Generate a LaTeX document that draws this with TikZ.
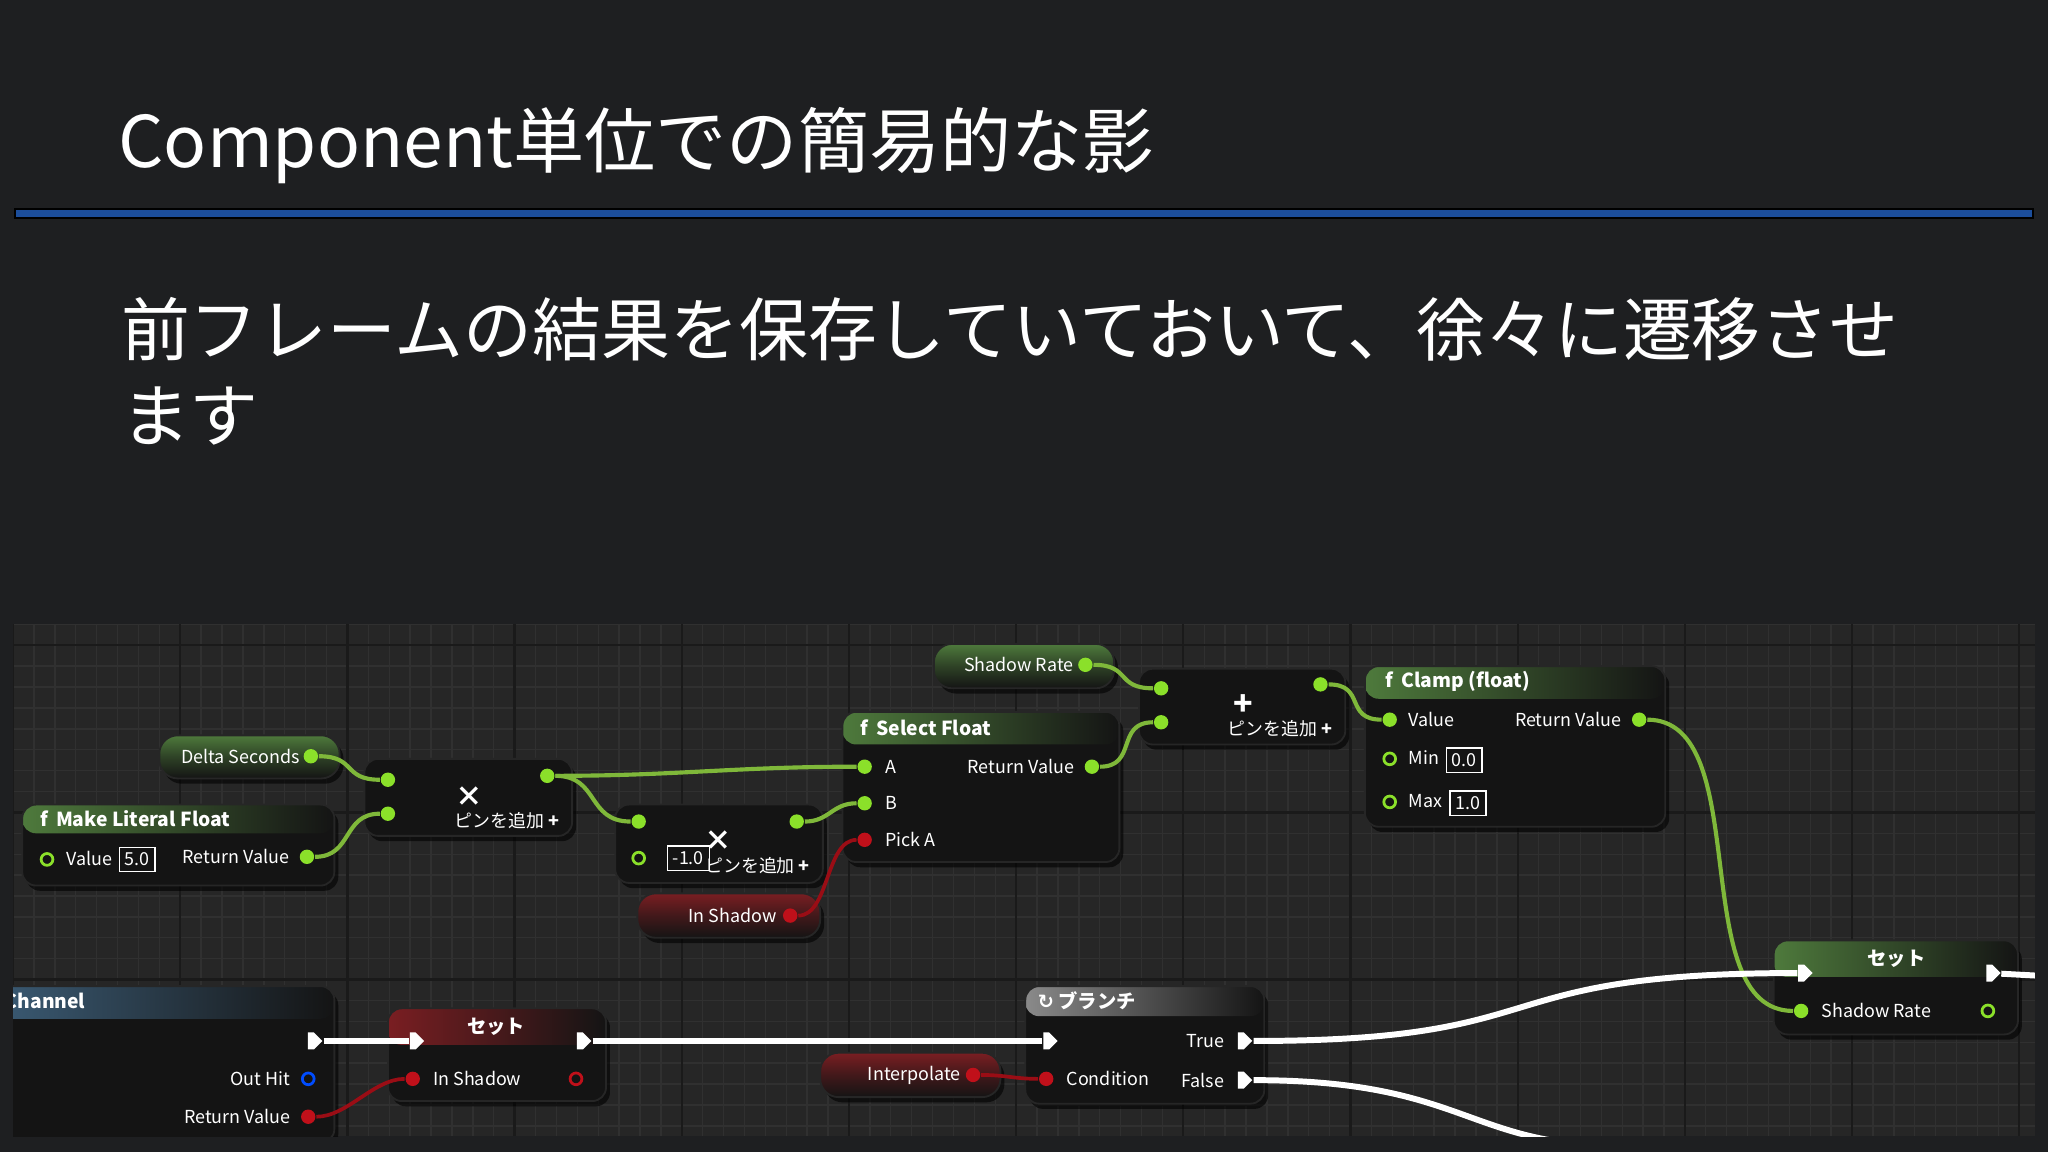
\documentclass[tikz,border=0pt]{standalone}
\usepackage{fontspec}
\setmainfont{Noto Sans CJK JP}
\newfontfamily\symfont{DejaVu Sans}
\usetikzlibrary{shapes.symbols}
\definecolor{bg}{HTML}{1E1F21}
\definecolor{gridbg}{HTML}{262626}
\definecolor{gridmin}{HTML}{303030}
\definecolor{gridmaj}{HTML}{1A1A1A}
\definecolor{nodebg}{HTML}{141414}
\definecolor{pgreen}{HTML}{8BE02A}
\definecolor{wgreen}{HTML}{7FB83A}
\definecolor{pred}{HTML}{C0101A}
\definecolor{hgreen}{HTML}{4E7A3C}
\definecolor{hred}{HTML}{7A1E22}
\definecolor{hblue}{HTML}{3D5F7A}
\definecolor{hgray}{HTML}{8A8A8A}
\definecolor{bline}{HTML}{1C4E9C}
\newcommand\bpnode[6]{%
  \fill[black, rounded corners=3pt, opacity=.6] (#1+3,#2+4) rectangle (#3+3,#4+4);
  \fill[nodebg, rounded corners=3pt] (#1,#2) rectangle (#3,#4);
  \shade[left color=#6, right color=nodebg, rounded corners=3pt] (#1,#2) rectangle (#3,#5);
  \draw[black!70!gray, rounded corners=3pt, line width=.4pt] (#1,#2) rectangle (#3,#4);}
\newcommand\bppill[5]{%
  \fill[black, rounded corners=4pt, opacity=.6] (#1+3,#2+4) rectangle (#3+3,#4+4);
  \shade[top color=#5, bottom color=nodebg, middle color=#5!45!nodebg, rounded corners=4pt] (#1,#2) rectangle (#3,#4);
  \draw[black!70!gray, rounded corners=4pt, line width=.4pt] (#1,#2) rectangle (#3,#4);}
\tikzset{
  gp/.style={circle, fill=pgreen, inner sep=0, minimum size=0.11cm},
  gph/.style={circle, draw=pgreen, line width=0.6pt, fill=nodebg, inner sep=0, minimum size=0.09cm},
  rp/.style={circle, fill=pred, inner sep=0, minimum size=0.11cm},
  rph/.style={circle, draw=pred, line width=0.6pt, fill=nodebg, inner sep=0, minimum size=0.09cm},
  bph/.style={circle, draw=blue!70!cyan, line width=0.6pt, fill=nodebg, inner sep=0, minimum size=0.09cm},
  ep/.style={signal, signal to=east, fill=white, inner sep=0, minimum width=0.11cm, minimum height=0.13cm},
  lbl/.style={font=\fontsize{3.9}{5}\selectfont, text=white!88, inner sep=0},
  ttl/.style={font=\fontsize{4.2}{5}\selectfont\bfseries, text=white!92, inner sep=0},
  vbox/.style={lbl, draw=white!60, line width=.3pt, inner sep=1.2pt},
  gw/.style={wgreen, line width=0.9pt},
  rw/.style={pred!80!black, line width=0.8pt},
  ww/.style={white!90, line width=1.3pt},
}
\begin{document}
\begin{tikzpicture}[x=0.01cm, y=-0.01cm]
\useasboundingbox (0,0) rectangle (1568,882);
\fill[bg] (0,0) rectangle (1568,882);
% title
\node[anchor=base west, inner sep=0, text=white, font=\fontsize{15.5}{18}\selectfont] (title) at (90,128) {Component単位での簡易的な影};
\fill[black] (11,159) rectangle (1557,168);
\fill[bline] (12,160.5) rectangle (1556,166.5);
\node[anchor=base west, inner sep=0, text=white, font=\fontsize{15}{17}\selectfont] (body1) at (92,272) {前フレームの結果を保存していておいて、徐々に遷移させ};
\node[anchor=base west, inner sep=0, text=white, font=\fontsize{15}{17}\selectfont] (body2) at (92,338) {ます};
% graph area
\begin{scope}
\clip (10,478) rectangle (1558,870);
\fill[gridbg] (10,478) rectangle (1558,870);
\foreach \x in {10,26,...,1558} \draw[gridmin, line width=.3pt] (\x,478) -- (\x,870);
\foreach \y in {478,494,...,870} \draw[gridmin, line width=.3pt] (10,\y) -- (1558,\y);
\foreach \x in {10,138,...,1558} \draw[gridmaj, line width=.5pt] (\x,478) -- (\x,870);
\foreach \y in {494,622,750} \draw[gridmaj, line width=.5pt] (10,\y) -- (1558,\y);

% ---- nodes
\bppill{715}{493}{853}{527}{hgreen}
\node[lbl] (srl) at (780,509) {Shadow Rate};
\node[gp] (srget) at (831,509) {};

\bpnode{872}{512}{1030}{570}{512}{nodebg}
\node[gp] (add1) at (889,527) {};
\node[gp] (add2) at (889,553) {};
\node[gp] (addo) at (1011,524) {};
\node[lbl, font=\fontsize{7}{7}\selectfont\bfseries, text=white!60] (addsym) at (952,540) {+};
\node[lbl] (addpin) at (980,558) {ピンを追加 \textbf{+}};

\bpnode{1045}{510}{1275}{633}{535}{hgreen}
\node[ttl, anchor=west] (clt) at (1060,522) {\textit{f}\, Clamp (float)};
\node[gp] (clv) at (1064,551) {};
\node[lbl, anchor=west] at (1078,551) {Value};
\node[lbl, anchor=east] at (1242,551) {Return Value};
\node[gp] (clr) at (1255,551) {};
\node[gph] (clmin) at (1064,581) {};
\node[lbl, anchor=west] at (1078,580) {Min};
\node[vbox] at (1121,582) {0.0};
\node[gph] (clmax) at (1064,614) {};
\node[lbl, anchor=west] at (1078,613) {Max};
\node[vbox] at (1124,615) {1.0};

\bppill{122}{563}{260}{596}{hgreen}
\node[lbl] (dsl) at (184,579) {Delta Seconds};
\node[gp] (ds) at (238,579) {};

\bpnode{279}{581}{438}{640}{581}{nodebg}
\node[gp] (m1a) at (297,597) {};
\node[gp] (m1b) at (297,623) {};
\node[gp] (m1o) at (419,594) {};
\node[lbl, font=\fontsize{6}{6}\selectfont\bfseries, text=white!60] (m1sym) at (359,610) {×};
\node[lbl] (m1pin) at (388,628) {ピンを追加 \textbf{+}};

\bpnode{17}{616}{256}{678}{638}{hgreen}
\node[ttl, anchor=west] (mlt) at (30,627) {\textit{f}\, Make Literal Float};
\node[gph] (mlv) at (36,658) {};
\node[lbl, anchor=west] at (50,657) {Value};
\node[vbox] at (105,658) {5.0};
\node[lbl, anchor=east] at (222,656) {Return Value};
\node[gp] (mlr) at (235,656) {};

\bpnode{471}{616}{630}{676}{616}{nodebg}
\node[gp] (m2a) at (489,629) {};
\node[gph] (m2b) at (489,657) {};
\node[gp] (m2o) at (610,629) {};
\node[vbox] at (527,657) {-1.0};
\node[lbl, font=\fontsize{6}{6}\selectfont\bfseries, text=white!60] (m2sym) at (550,644) {×};
\node[lbl] (m2pin) at (580,663) {ピンを追加 \textbf{+}};

\bppill{488}{684}{628}{718}{hred}
\node[lbl] (isl) at (561,701) {In Shadow};
\node[rp] (isg) at (605,701) {};

\bpnode{645}{545}{857}{660}{570}{hgreen}
\node[ttl, anchor=west] (sft) at (658,557) {\textit{f}\, Select Float};
\node[gp] (sfa) at (662,587) {};
\node[lbl, anchor=west] at (677,587) {A};
\node[lbl, anchor=east] at (823,587) {Return Value};
\node[gp] (sfr) at (836,587) {};
\node[gp] (sfb) at (662,615) {};
\node[lbl, anchor=west] at (677,615) {B};
\node[rp] (sfp) at (662,643) {};
\node[lbl, anchor=west] at (677,643) {Pick A};

\bpnode{1358}{720}{1545}{792}{748}{hgreen}
\node[ttl] (set2t) at (1452,734) {セット};
\node[ep] (s2in) at (1379,745) {};
\node[ep] (s2out) at (1523,745) {};
\node[gp] (s2sr) at (1379,774) {};
\node[lbl, anchor=west] at (1394,774) {Shadow Rate};
\node[gph] (s2o) at (1522,774) {};
\coordinate (s2next) at (1560,747);

\bpnode{-20}{755}{256}{875}{780}{hblue}
\node[ttl, anchor=west] (cht) at (3,766) {Channel};
\node[ep] (chex) at (238,797) {};
\node[lbl, anchor=east] at (223,826) {Out Hit};
\node[bph] (choh) at (236,826) {};
\node[lbl, anchor=east] at (223,855) {Return Value};
\node[rp] (chrv) at (236,855) {};

\bpnode{297}{772}{464}{843}{800}{hred}
\node[ttl] (set1t) at (380,786) {セット};
\node[ep] (s1in) at (316,797) {};
\node[ep] (s1out) at (444,797) {};
\node[rp] (s1is) at (316,826) {};
\node[lbl, anchor=west] at (331,826) {In Shadow};
\node[rph] (s1o) at (441,826) {};

\bppill{628}{806}{766}{840}{hred}
\node[lbl] (ipl) at (700,823) {Interpolate};
\node[rp] (ip) at (745,823) {};

\bpnode{785}{755}{968}{845}{778}{hgray}
\node[ttl, anchor=west] (brt) at (794,766) {{\symfont ↻} ブランチ};
\node[ep] (brin) at (801,797) {};
\node[lbl, anchor=east] at (938,797) {True};
\node[ep] (brt2) at (950,797) {};
\node[rp] (brc) at (801,826) {};
\node[lbl, anchor=west] at (816,826) {Condition};
\node[lbl, anchor=east] at (938,827) {False};
\node[ep] (brf) at (950,827) {};
\coordinate (brfend) at (1200,875);

% ---- wires
\draw[gw] (ds) .. controls +(35,0) and +(-35,0) .. (m1a);
\draw[gw] (mlr) .. controls +(35,0) and +(-35,0) .. (m1b);
\draw[gw] (m1o) .. controls +(100,0) and +(-100,0) .. (sfa);
\draw[gw] (m1o) .. controls +(40,0) and +(-40,0) .. (m2a);
\draw[gw] (m2o) .. controls +(25,0) and +(-25,0) .. (sfb);
\draw[rw] (isg) .. controls +(30,0) and +(-30,0) .. (sfp);
\draw[gw] (sfr) .. controls +(35,0) and +(-35,0) .. (add2);
\draw[gw] (srget) .. controls +(35,0) and +(-35,0) .. (add1);
\draw[gw] (addo) .. controls +(35,0) and +(-35,0) .. (clv);
\draw[gw] (clr) .. controls +(90,0) and +(-90,0) .. (s2sr);
\draw[ww] (chex) -- (s1in);
\draw[ww] (s1out) -- (brin);
\draw[ww] (brt2) .. controls +(250,0) and +(-250,0) .. (s2in);
\draw[ww] (s2out) -- (s2next);
\draw[ww] (brf) .. controls +(150,0) and +(-80,-10) .. (brfend);
\draw[rw] (chrv) .. controls +(30,0) and +(-30,0) .. (s1is);
\draw[rw] (ip) .. controls +(25,0) and +(-25,0) .. (brc);
\end{scope}
\end{tikzpicture}
\end{document}
